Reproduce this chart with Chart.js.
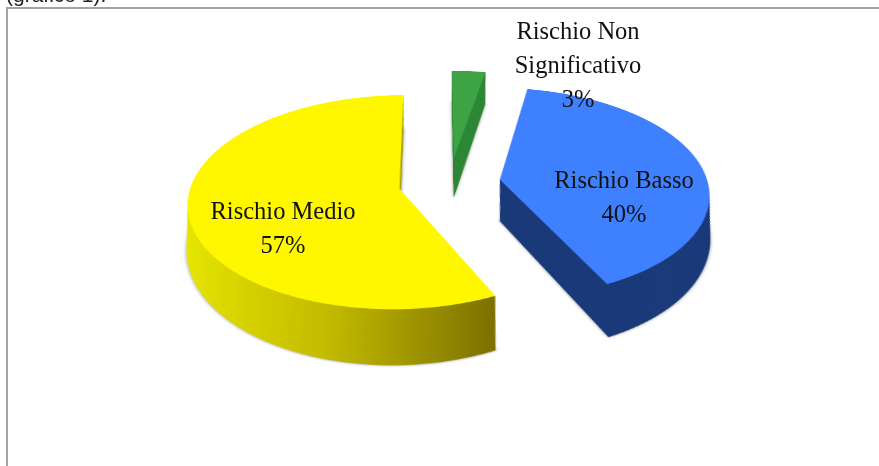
<!DOCTYPE html>
<html>
<head>
<meta charset="utf-8">
<script src="https://cdn.jsdelivr.net/npm/chart.js@4/dist/chart.umd.min.js"></script>
<style>
  html, body { margin: 0; padding: 0; background: #fff; width: 879px; height: 466px; overflow: hidden; }
  .caption { position: absolute; left: 6px; top: -17px; font: 21px "Liberation Sans", Arial, sans-serif; color: #222; filter: blur(0.4px); }
  .frame { position: absolute; left: 6px; top: 7px; width: 873px; height: 459px; border-top: 2px solid #a3a3a3; border-left: 2px solid #a3a3a3; box-sizing: border-box; }
  #pie { position: absolute; left: 9.5px; top: -217px; transform-origin: 50% 50%; transform: perspective(1456px) rotateX(60deg); }
  .label { position: absolute; width: 220px; margin-left: -110px; text-align: center; font: 24.5px/34px "Liberation Serif", "Times New Roman", serif; color: #111; filter: blur(0.4px); }
</style>
</head>
<body>
<div class="caption">(grafico 1).</div>
<div class="frame"></div>
<canvas id="pie" style="width:879px;height:800px"></canvas>
<div class="label" id="l0" style="left:578px;top:14px"></div>
<div class="label" id="l1" style="left:624px;top:163px"></div>
<div class="label" id="l2" style="left:283px;top:194px"></div>
<script>
const categories = ['Rischio Non Significativo', 'Rischio Basso', 'Rischio Medio'];
const labelLines = [['Rischio Non', 'Significativo'], ['Rischio Basso'], ['Rischio Medio']];
const values = [3, 40, 57];
const topColors = ['#3da345', '#3f80ff', '#fff700'];
const sideColors = ['#2e8836', '#1a3a7a', null];
const yellowSideStops = ['#e8e800', '#c4bc00', '#7c7000'];

const EXPLODE = 51;
const DEPTH = 80;
const PERSPECTIVE_FIX = 0.000595; // keeps the walls upright under the css perspective

function arcCopy(arc, fill) {
  const copy = Object.create(arc);
  copy.options = {
    backgroundColor: fill,
    borderColor: fill,
    borderWidth: 0,
    borderAlign: 'center',
    borderRadius: 0,
    offset: 0,
    spacing: 0,
    circular: true
  };
  return copy;
}

function explodeShift(arc) {
  const mid = (arc.startAngle + arc.endAngle) / 2;
  return [Math.cos(mid) * EXPLODE, Math.sin(mid) * EXPLODE];
}

function sideFill(ctx, arc, i) {
  if (sideColors[i]) return sideColors[i];
  const xEnd = arc.x + Math.cos(arc.startAngle) * arc.outerRadius;
  const grad = ctx.createLinearGradient(arc.x - arc.outerRadius, 0, xEnd, 0);
  yellowSideStops.forEach((c, n) => grad.addColorStop(n / (yellowSideStops.length - 1), c));
  return grad;
}

const extrude = {
  id: 'extrude',
  beforeDatasetDraw(chart) {
    const ctx = chart.ctx;
    const arcs = chart.getDatasetMeta(0).data;

    arcs.forEach((arc, i) => {
      const [dx, dy] = explodeShift(arc);
      const wall = arcCopy(arc, sideFill(ctx, arc, i));
      for (let d = DEPTH; d > 0; d -= 1) {
        const fix = 1 / (1 + d * PERSPECTIVE_FIX);
        ctx.save();
        if (d === DEPTH) {
          ctx.shadowColor = 'rgba(0,0,0,0.45)';
          ctx.shadowBlur = 7;
        }
        ctx.translate(arc.x, dy + d);
        ctx.scale(fix, 1);
        ctx.translate(dx - arc.x, 0);
        wall.draw(ctx);
        ctx.restore();
      }
    });

    arcs.forEach((arc, i) => {
      const [dx, dy] = explodeShift(arc);
      ctx.save();
      ctx.translate(dx, dy);
      arcCopy(arc, topColors[i]).draw(ctx);
      ctx.restore();
    });
    return false;
  }
};

new Chart(document.getElementById('pie'), {
  type: 'pie',
  data: {
    labels: categories,
    datasets: [{ data: values, backgroundColor: topColors, borderWidth: 0 }]
  },
  options: {
    responsive: false,
    devicePixelRatio: 2,
    animation: false,
    radius: 208,
    rotation: -0.5,
    plugins: { legend: { display: false }, tooltip: { enabled: false } }
  },
  plugins: [extrude]
});

labelLines.forEach((lines, i) => {
  document.getElementById('l' + i).innerHTML = lines.concat(values[i] + '%').join('<br>');
});
</script>
</body>
</html>
